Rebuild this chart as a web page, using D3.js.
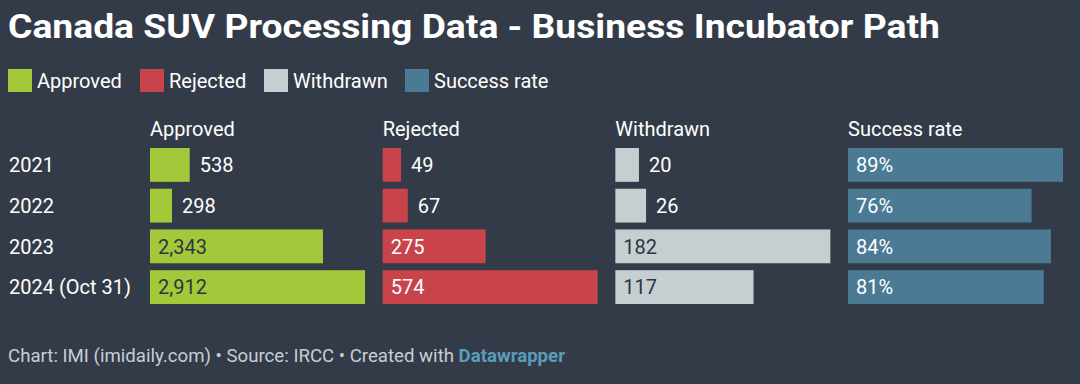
<!DOCTYPE html>
<html>
<head>
<meta charset="utf-8">
<script src="https://cdn.jsdelivr.net/npm/d3@7"></script>
<style>
  html, body { margin: 0; padding: 0; background: #343b48; }
  svg { display: block; font-family: Roboto, "Noto Sans", sans-serif; }
</style>
</head>
<body>
<svg id="chart"></svg>
<script>
var years     = ["2021", "2022", "2023", "2024 (Oct 31)"];
var columns   = ["Approved", "Rejected", "Withdrawn", "Success rate"];
var approved  = [538, 298, 2343, 2912];
var rejected  = [49, 67, 275, 574];
var withdrawn = [20, 26, 182, 117];
var success   = [89, 76, 84, 81];

var w = 1080, h = 384;
var colors    = ["#a3c93b", "#c9434b", "#c6ced2", "#4b7b94"];
var inkInside = ["#2f3540", "#ffffff", "#2f3540", "#ffffff"];
var series    = [approved, rejected, withdrawn, success];
var fmt = [d3.format(","), d3.format(","), d3.format(","), function (d) { return d + "%"; }];

var svg = d3.select("#chart").attr("width", w).attr("height", h);

svg.append("rect").attr("width", w).attr("height", h).attr("fill", "#343b48");

// title
svg.append("text")
  .attr("x", 8).attr("y", 38)
  .attr("fill", "#fff")
  .attr("font-size", 34).attr("font-weight", 700)
  .attr("textLength", 932).attr("lengthAdjust", "spacingAndGlyphs")
  .text("Canada SUV Processing Data - Business Incubator Path");

// legend
var legendX = [8, 140, 264, 405];
var legend = svg.selectAll("g.legend").data(columns).enter().append("g")
  .attr("class", "legend")
  .attr("transform", function (d, i) { return "translate(" + legendX[i] + ",69)"; });
legend.append("rect").attr("width", 24).attr("height", 23)
  .attr("fill", function (d, i) { return colors[i]; });
legend.append("text").attr("x", 29).attr("y", 19)
  .attr("fill", "#fff").attr("font-size", 20)
  .text(function (d) { return d; });

var y = d3.scaleBand().domain(years).range([148, 304]).paddingInner(0.17);
var col = d3.scaleBand().domain(columns).range([150, 1063]).paddingInner(0.076);

// row labels
svg.selectAll("text.year").data(years).enter().append("text")
  .attr("class", "year")
  .attr("x", 9)
  .attr("y", function (d) { return y(d) + y.bandwidth() / 2; })
  .attr("dy", "0.36em")
  .attr("fill", "#fff").attr("font-size", 20)
  .text(function (d) { return d; });

columns.forEach(function (name, ci) {
  var vals = series[ci];
  var x = d3.scaleLinear().domain([0, d3.max(vals)]).range([0, col.bandwidth()]);
  var g = svg.append("g").attr("transform", "translate(" + col(name) + ",0)");

  g.append("text").attr("x", 0).attr("y", 136)
    .attr("fill", "#fff").attr("font-size", 20)
    .text(name);

  var rows = g.selectAll("g.row").data(vals).enter().append("g").attr("class", "row");
  rows.append("rect")
    .attr("x", 0)
    .attr("y", function (d, i) { return y(years[i]); })
    .attr("width", function (d) { return x(d); })
    .attr("height", y.bandwidth())
    .attr("fill", colors[ci]);

  rows.append("text")
    .attr("x", function (d) { return x(d) > 70 ? 8 : x(d) + 10; })
    .attr("y", function (d, i) { return y(years[i]) + y.bandwidth() / 2; })
    .attr("dy", "0.36em")
    .attr("font-size", 20)
    .attr("fill", function (d) { return x(d) > 70 ? inkInside[ci] : "#fff"; })
    .text(function (d) { return fmt[ci](d); });
});

// footer
var foot = svg.append("text").attr("x", 8).attr("y", 362)
  .attr("font-size", 17.5).attr("fill", "#c8cdd3")
  .attr("textLength", 557).attr("lengthAdjust", "spacingAndGlyphs");
foot.append("tspan").text("Chart: IMI (imidaily.com) \u2022 Source: IRCC \u2022 Created with ");
foot.append("tspan").attr("fill", "#5b9bbb").attr("font-weight", 700).text("Datawrapper");
</script>
</body>
</html>
